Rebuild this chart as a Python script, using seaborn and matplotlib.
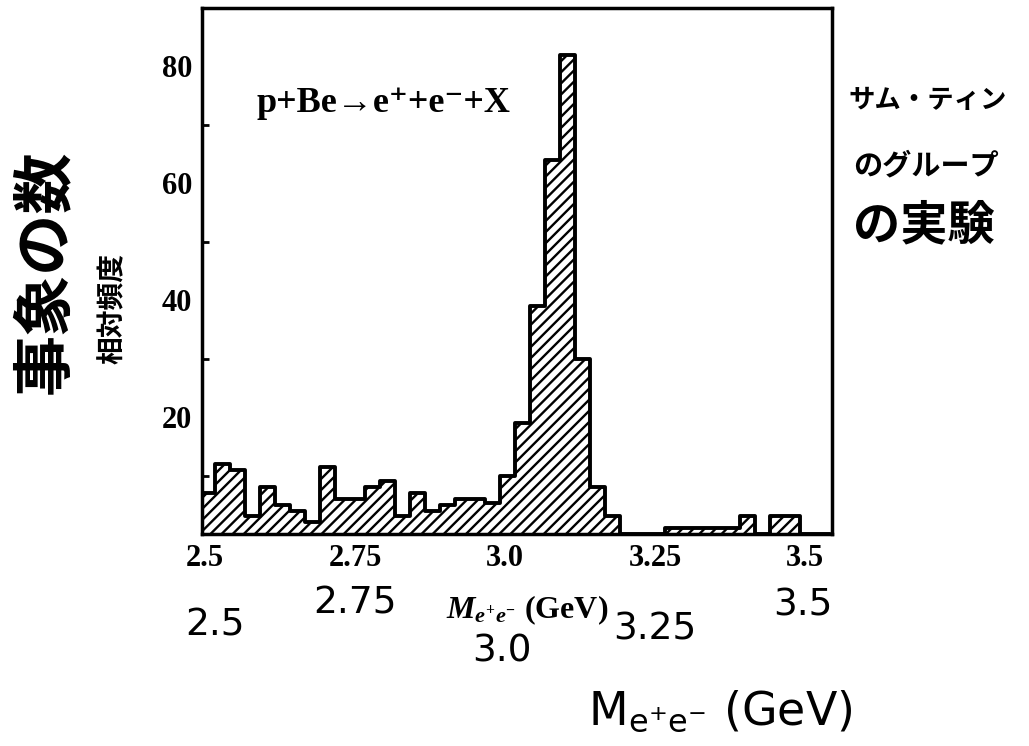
import numpy as np
import pandas as pd
import matplotlib
matplotlib.use("Agg")
import matplotlib.pyplot as plt
import seaborn as sns

# ---------------- data ----------------
bin_start = 2.492          # left edge of first bin (GeV)
bin_width = 0.025          # GeV
counts = [7, 12, 11, 3, 8, 5, 4, 2, 11.5, 6, 6, 8, 9, 3, 7, 4, 5, 6, 6, 5.3,
          10, 19, 39, 64, 82, 30, 8, 3, 0, 0, 0, 1, 1, 1, 1, 1, 3, 0, 3, 3, 0, 0]
x_ticks = [2.5, 2.75, 3.0, 3.25, 3.5]
x_tick_labels = ["2.5", "2.75", "3.0", "3.25", "3.5"]
y_ticks = [20, 40, 60, 80]
y_minor = [10, 30, 50, 70]
hand_x_labels = ["2.5", "2.75", "3.0", "3.25", "3.5"]
reaction = "p+Be→e⁺+e⁻+X"
jp_right = ["サム・ティン", "のグループ", "の実験"]
jp_left_big = "事象の数"
jp_left_small = "相対頻度"

# ---------------- style ----------------
sns.set_style("white")
plt.rcParams["font.family"] = ["DejaVu Sans"]
plt.rcParams["text.color"] = "black"
plt.rcParams["axes.labelcolor"] = "black"
plt.rcParams["xtick.color"] = "black"
plt.rcParams["ytick.color"] = "black"
plt.rcParams["hatch.linewidth"] = 1.7
plt.rcParams["hatch.color"] = "black"
plt.rcParams["mathtext.fontset"] = "custom"
plt.rcParams["mathtext.rm"] = "Liberation Serif:bold"
plt.rcParams["mathtext.it"] = "Liberation Serif:italic:bold"
plt.rcParams["mathtext.bf"] = "Liberation Serif:bold"

W, H = 1029, 746
fig = plt.figure(figsize=(W / 100, H / 100), dpi=100)
fig.patch.set_facecolor("white")

def fx(px):
    return px / W

def fy(py):
    return 1 - py / H

ax = fig.add_axes([fx(202), fy(534), fx(832) - fx(202), fy(8) - fy(534)])

n = len(counts)
centers = bin_start + bin_width * (np.arange(n) + 0.5)
df = pd.DataFrame({"mass": centers, "freq": counts})
brange = (bin_start, bin_start + bin_width * n)

sns.histplot(data=df, x="mass", weights="freq", binwidth=bin_width,
             binrange=brange, element="bars", fill=True, color="white",
             edgecolor="black", linewidth=0, hatch="///", alpha=1, ax=ax)
sns.histplot(data=df, x="mass", weights="freq", binwidth=bin_width,
             binrange=brange, element="step", fill=False, color="black",
             linewidth=2.8, ax=ax)

ax.set_xlim(2.495, 3.545)
ax.set_ylim(0, 90)
ax.set_xlabel("")
ax.set_ylabel("")
ax.set_xticks(x_ticks)
ax.set_xticklabels(x_tick_labels)
ax.set_yticks(y_ticks)
ax.set_yticks(y_minor, minor=True)
ax.tick_params(axis="both", which="major", direction="in", length=7, width=2,
               labelsize=22, colors="black", pad=7)
ax.tick_params(axis="y", which="minor", direction="in", length=5, width=2,
               left=True, colors="black")
for lab in ax.get_xticklabels() + ax.get_yticklabels():
    lab.set_fontfamily(["Liberation Serif", "DejaVu Serif"])
    lab.set_fontweight("bold")
for sp in ax.spines.values():
    sp.set_visible(True)
    sp.set_linewidth(2.5)
    sp.set_color("black")
ax.grid(False)

# reaction text
fig.text(fx(383), fy(103), reaction, ha="center", va="center", fontsize=26,
         fontweight="bold", family=["Liberation Serif", "DejaVu Serif"])

# right handwritten note
jp_font = ["Noto Sans CJK JP", "DejaVu Sans"]
fig.text(fx(848), fy(100), jp_right[0], ha="left", va="center", fontsize=19,
         family=jp_font, fontweight="bold")
fig.text(fx(853), fy(165), jp_right[1], ha="left", va="center", fontsize=21,
         family=jp_font, fontweight="bold")
fig.text(fx(853), fy(225), jp_right[2], ha="left", va="center", fontsize=34,
         family=jp_font, fontweight="bold")

# left vertical labels
fig.text(fx(45), fy(272), jp_left_big, ha="center", va="center", fontsize=44,
         rotation=90, family=jp_font, fontweight="bold")
fig.text(fx(113), fy(308), jp_left_small, ha="center", va="center",
         fontsize=20, rotation=90, family=jp_font, fontweight="bold")

# handwritten x labels
hand_pos = [(215, 626), (355, 603), (502, 652), (655, 630), (803, 605)]
for lab, (px, py) in zip(hand_x_labels, hand_pos):
    fig.text(fx(px), fy(py), lab, ha="center", va="center", fontsize=27)

# printed axis label
fig.text(fx(527), fy(610), r"$M_{e^{+}e^{-}}$ (GeV)", ha="center", va="center",
         fontsize=23, family=["Liberation Serif", "DejaVu Serif"],
         fontweight="bold")

# big handwritten axis label
fig.text(fx(720), fy(712), r"M$_{\mathrm{e^{+}e^{-}}}$ (GeV)", ha="center",
         va="center", fontsize=33, math_fontfamily="dejavusans")

fig.savefig("out.png", dpi=100, facecolor="white")
